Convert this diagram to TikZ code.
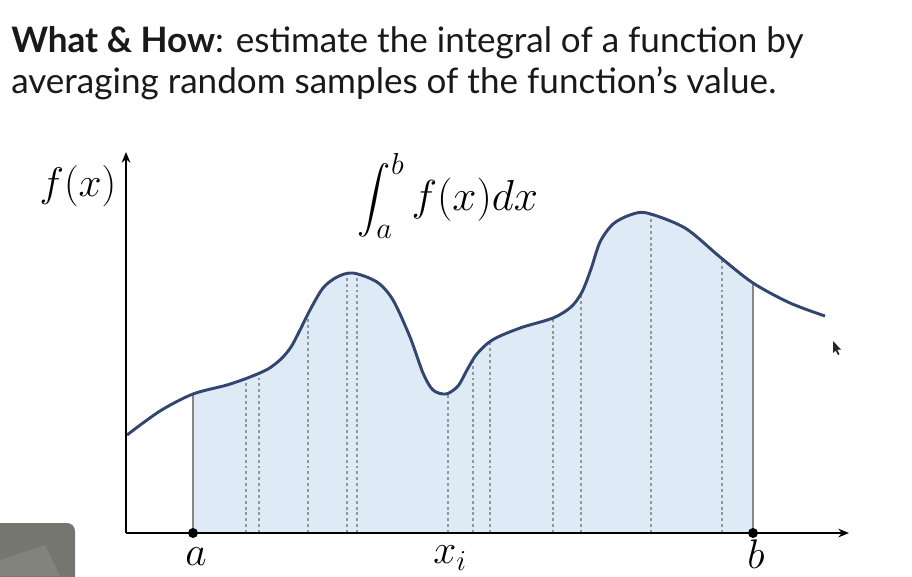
\RequirePackage{fix-cm}
\documentclass[tikz,border=0pt]{standalone}
\usepackage{fontspec}
\setmainfont{Lato}
\newfontfamily\headfont{Lato}
\usepackage{amsmath}
\usetikzlibrary{arrows.meta}
\definecolor{curveblue}{RGB}{50,70,112}
\definecolor{areablue}{RGB}{222,234,246}
\definecolor{dashgray}{RGB}{150,150,150}
\definecolor{boxgray}{RGB}{118,118,112}
\definecolor{headtext}{RGB}{25,25,25}
\tikzset{
  axisline/.style={line width=1.5pt, -{Stealth[length=8pt,width=6.5pt]}},
  curveline/.style={line width=2.2pt, color=curveblue, line join=round},
  sampleline/.style={line width=1pt, dashgray, dash pattern=on 2.2pt off 2.2pt},
  boundline/.style={line width=0.9pt, color=dashgray!90!black},
  mathlabel/.style={font=\fontsize{31}{37}\selectfont, inner sep=0pt},
  headline/.style={font=\headfont\fontsize{26.3}{32}\selectfont, text=headtext, anchor=base west, inner sep=0pt},
  endpoint/.style={circle, fill=black, inner sep=0pt, minimum size=7.5pt}
}
\def\curvepath{plot[smooth, tension=0.5] coordinates {(127,435) (160,411) (193,394) (227,385) (250,377) (268,369) (281,359) (291,347) (300,330) (310,310) (323,288) (337,277) (353,273) (377,282) (393,300) (410,337) (423,373) (433,390) (446,394) (458,386) (467,370) (476,355) (488,343) (500,336) (523,327) (553,318) (571,307) (582,292) (591,269) (600,242) (613,224) (630,215) (647,213) (685,228) (720,257) (753,283) (790,303) (825,316)}}
\begin{document}
\begin{tikzpicture}[x=0.75pt,y=-0.75pt]
\useasboundingbox (0,0) rectangle (912,576);
% heading
\node[headline] (h1) at (11,52) {\textbf{What \& How}: estimate the integral of a function by};
\node[headline] (h2) at (11,93) {averaging random samples of the function’s value.};
% area
\begin{scope}
  \clip (193,100) rectangle (753,533);
  \fill[areablue] \curvepath -- (825,533) -- (127,533) -- cycle;
  \clip \curvepath -- (825,533) -- (127,533) -- cycle;
  \foreach \xx in {246,259,308,347,357,448,473,490,553,581,651,722}
    \draw[sampleline] (\xx,533) -- (\xx,150);
\end{scope}
\begin{scope}
  \clip \curvepath -- (825,533) -- (127,533) -- cycle;
  \draw[boundline] (193,533) -- (193,150);
  \draw[boundline] (753,533) -- (753,150);
\end{scope}
% curve
\draw[curveline] \curvepath;
% axes
\coordinate (O) at (126,533);
\coordinate (ytip) at (126,152);
\coordinate (xtip) at (849,533);
\draw[axisline] (O) -- (ytip);
\draw[axisline] (O) -- (xtip);
% endpoints
\node[endpoint] (pa) at (193,533) {};
\node[endpoint] (pb) at (753,533) {};
% labels
\node[mathlabel] (la) at (196,557) {$a$};
\node[mathlabel] (lxi) at (450,558) {$x_i$};
\node[mathlabel] (lb) at (756,554) {$b$};
\node[mathlabel] (fx) at (78,186) {$f(x)$};
\node[mathlabel, font=\fontsize{32.5}{39}\selectfont] (integral) at (448,196) {$\displaystyle\int_a^b f(x)dx$};
% webcam overlay box
\fill[boxgray, rounded corners=6pt] (-10,523) -- (75,523) -- (75,590) -- (-10,590) -- cycle;
\fill[boxgray!80!white, opacity=0.5] (0,560) -- (45,545) -- (60,576) -- (0,576) -- cycle;
% cursor
\fill[black!85] (833,341) -- (833,353) -- (835.5,350.5) -- (838,355) -- (839.5,354) -- (837.2,349.8) -- (841,349.5) -- cycle;
\end{tikzpicture}
\end{document}
